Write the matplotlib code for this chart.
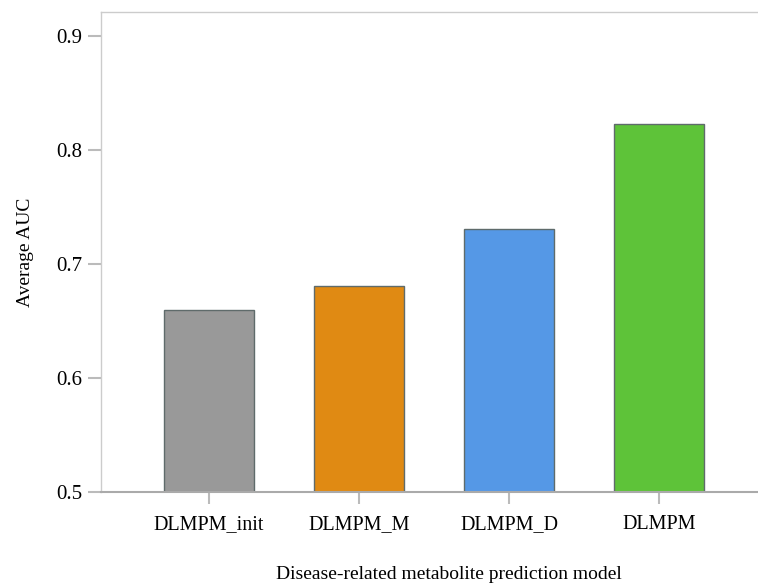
import matplotlib
matplotlib.use('Agg')
import matplotlib.pyplot as plt

models = ['DLMPM_init', 'DLMPM_M', 'DLMPM_D', 'DLMPM']
auc = [0.660, 0.681, 0.731, 0.823]
colors = ['#999999', '#e08a13', '#5598e6', '#5ec339']

plt.rcParams['font.family'] = ['Liberation Serif', 'DejaVu Serif']

fig = plt.figure(figsize=(7.58, 5.85), dpi=100)
ax = fig.add_axes([101/758, 93/585, 657/758, 480/585])

x = range(len(models))
ax.bar(x, [a - 0.5 for a in auc], bottom=0.5, width=0.6, color=colors,
       edgecolor='#5f6b6b', linewidth=1.0, zorder=2)

ax.set_ylim(0.5, 0.921)
ax.set_xlim(-0.72, 3.66)
ax.set_yticks([0.5, 0.6, 0.7, 0.8, 0.9])
ax.set_yticklabels(['0.5', '0.6', '0.7', '0.8', '0.9'])
ax.set_xticks(list(x))
ax.set_xticklabels(models)

for s in ['left', 'top']:
    ax.spines[s].set_color('#cccccc')
    ax.spines[s].set_linewidth(1.0)
ax.spines['right'].set_visible(False)
ax.spines['bottom'].set_color('#aaaaaa')
ax.spines['bottom'].set_linewidth(1.5)

ax.tick_params(axis='y', length=9.4, width=1.5, color='#bbbbbb', labelsize=15, pad=4)
ax.tick_params(axis='x', length=8.6, width=1.5, color='#bbbbbb', labelsize=14.5, pad=8)

ax.set_ylabel('Average AUC', fontsize=14, labelpad=16)
ax.set_xlabel('Disease-related metabolite prediction model', fontsize=14, labelpad=23)
ax.xaxis.label.set_x(0.529)

fig.savefig('out.png', dpi=100)
